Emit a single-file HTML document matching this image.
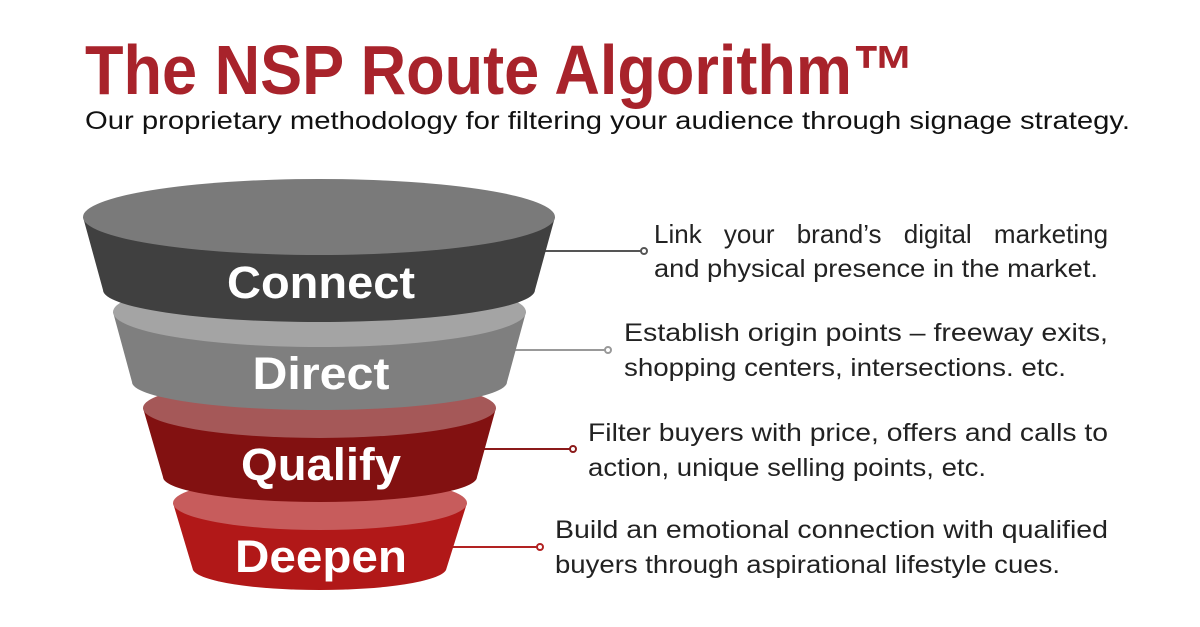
<!DOCTYPE html>
<html><head><meta charset="utf-8"><style>
html,body{margin:0;padding:0;background:#fff;}
svg{display:block;}
text{font-family:"Liberation Sans",sans-serif;}
</style></head><body>
<svg width="1200" height="627" viewBox="0 0 1200 627" xmlns="http://www.w3.org/2000/svg">
<rect width="1200" height="627" fill="#fff"/>
<text x="85" y="94" font-size="70" font-weight="bold" fill="#a8232b" textLength="830" lengthAdjust="spacingAndGlyphs">The NSP Route Algorithm™</text>
<text x="85" y="129" font-size="25" fill="#111" textLength="1045" lengthAdjust="spacingAndGlyphs">Our proprietary methodology for filtering your audience through signage strategy.</text>

<g stroke-width="2" fill="#fff">
<line x1="500" y1="251" x2="641" y2="251" stroke="#555"/><circle cx="644" cy="251" r="3" stroke="#555"/>
<line x1="480" y1="350" x2="605" y2="350" stroke="#999"/><circle cx="608" cy="350" r="3" stroke="#999"/>
<line x1="450" y1="449" x2="570" y2="449" stroke="#8b1a1a"/><circle cx="573" cy="449" r="3" stroke="#8b1a1a"/>
<line x1="420" y1="547" x2="537" y2="547" stroke="#b22222"/><circle cx="540" cy="547" r="3" stroke="#b22222"/>
</g>

<path d="M173 503 L193 570 A127 22 0 0 0 446 570 L467 503 Z" fill="#b11818"/>
<ellipse cx="320" cy="503" rx="147" ry="27" fill="#c75c5c"/>
<path d="M143 408 L163 477 A157 25 0 0 0 477 477 L496 408 Z" fill="#821111"/>
<ellipse cx="319.5" cy="408" rx="176.5" ry="30" fill="#a55858"/>
<path d="M113 312 L132 382 A187.5 28 0 0 0 507 382 L526 312 Z" fill="#7f7f7f"/>
<ellipse cx="319.5" cy="312" rx="206.5" ry="35" fill="#a4a4a4"/>
<path d="M83 217 L103 290 A216 32 0 0 0 535 290 L555 217 Z" fill="#404040"/>
<ellipse cx="319" cy="217" rx="236" ry="38" fill="#7a7a7a"/>

<g font-weight="bold" fill="#fff" text-anchor="middle">
<text x="321" y="298" font-size="45" textLength="188" lengthAdjust="spacingAndGlyphs">Connect</text>
<text x="321" y="389" font-size="45" textLength="137" lengthAdjust="spacingAndGlyphs">Direct</text>
<text x="321" y="480" font-size="45" textLength="160" lengthAdjust="spacingAndGlyphs">Qualify</text>
<text x="321" y="572" font-size="45" textLength="172" lengthAdjust="spacingAndGlyphs">Deepen</text>
</g>

<g font-size="25" fill="#222">
<text x="654" y="243" font-size="26" word-spacing="15">Link your brand’s digital marketing</text>
<text x="654" y="277" textLength="444" lengthAdjust="spacingAndGlyphs">and physical presence in the market.</text>
<text x="624" y="341" textLength="484" lengthAdjust="spacingAndGlyphs">Establish origin points – freeway exits,</text>
<text x="624" y="376" textLength="442" lengthAdjust="spacingAndGlyphs">shopping centers, intersections. etc.</text>
<text x="588" y="441" textLength="520" lengthAdjust="spacingAndGlyphs">Filter buyers with price, offers and calls to</text>
<text x="588" y="476" textLength="398" lengthAdjust="spacingAndGlyphs">action, unique selling points, etc.</text>
<text x="555" y="538" textLength="553" lengthAdjust="spacingAndGlyphs">Build an emotional connection with qualified</text>
<text x="555" y="573" textLength="505" lengthAdjust="spacingAndGlyphs">buyers through aspirational lifestyle cues.</text>
</g>
</svg>
</body></html>
